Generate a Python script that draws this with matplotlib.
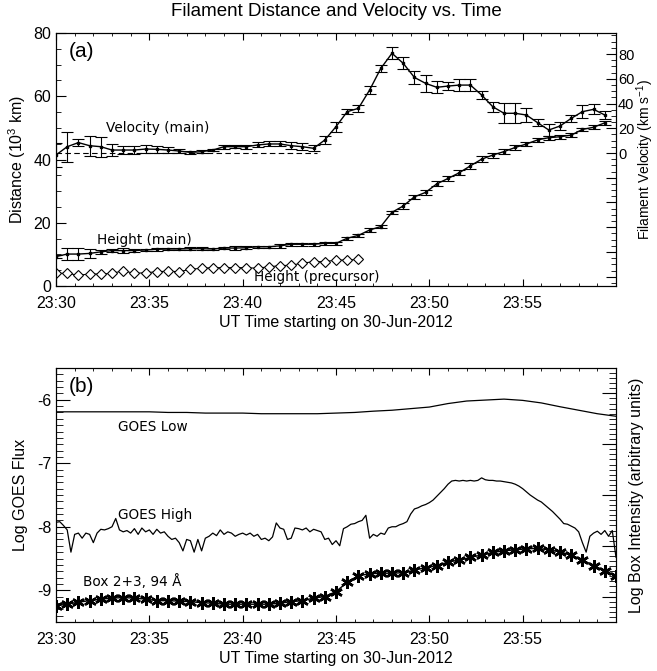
import numpy as np
import matplotlib
matplotlib.use('Agg')
import matplotlib.pyplot as plt
from matplotlib.ticker import MultipleLocator, FixedLocator, FuncFormatter, NullFormatter

plt.rcParams['font.family'] = ['Liberation Sans', 'DejaVu Sans']
plt.rcParams['mathtext.default'] = 'regular'
plt.rcParams['axes.unicode_minus'] = False

# tiempos en minutos desde 23:30 UT
cad_main = 0.6   # 36 s
cad_high = 0.2   # 12 s
cad_low = 1.0

# panel (a)
vel_main = [-1.6, 5.1, 8.4, 5.9, 5.1, 2.4, 2.4, 2.4, 3.2, 3.0,
            2.4, 1.6, 0.5, 1.1, 2.4, 5.1, 5.1, 5.1, 6.5, 7.3,
            7.3, 5.9, 5.1, 3.8, 10.5, 21.3, 33.4, 36.1, 50.9, 68.4,
            80.6, 72.5, 61.1, 56.3, 53.1, 54.1, 54.9, 54.9, 46.9, 37.4,
            32.1, 32.1, 30.7, 24.5, 18.6, 21.8, 28.0, 33.4, 35.3, 30.7]
vel_err = [10, 12, 3, 8, 8, 5, 3, 3.5, 3, 3,
           2.5, 1.5, 1, 1, 1, 1.5, 1, 1.5, 2, 2,
           2, 3, 3, 2.5, 3, 4, 2, 3, 3, 3,
           5, 5, 5, 7, 5, 3, 5, 5, 3, 4,
           8, 8, 6, 3, 5, 3, 3, 5, 4, 3]
h_main = [9.3, 10.1, 10.1, 10.3, 10.8, 11.2, 11.2, 11.2, 11.4, 11.6,
          11.7, 11.7, 11.8, 11.8, 11.7, 12.0, 12.0, 12.1, 12.4, 12.4,
          12.7, 13.2, 13.2, 13.2, 13.5, 13.5, 15.1, 16.0, 17.7, 18.8,
          23.3, 25.3, 28.2, 29.6, 32.3, 34.0, 35.8, 38.0, 40.1, 41.4,
          42.5, 43.8, 44.9, 46.2, 46.9, 47.2, 47.7, 49.5, 50.2, 51.6]
h_err = [0.4, 1.8, 1.8, 1.5, 0.7, 0.6, 0.7, 0.5, 0.4, 0.4,
         0.4, 0.4, 0.4, 0.4, 0.4, 0.4, 0.5, 0.5, 0.4, 0.4,
         0.6, 0.4, 0.4, 0.5, 0.4, 0.5, 0.5, 0.5, 0.5, 0.6,
         0.5, 0.8, 0.7, 0.8, 0.8, 0.8, 0.8, 0.9, 0.9, 0.8,
         0.8, 0.8, 0.6, 0.6, 0.6, 0.6, 0.6, 0.6, 0.6, 0.6]
h_prec = [4.0, 4.0, 3.4, 3.8, 3.8, 4.0, 4.8, 4.0, 4.2, 4.5,
          4.7, 4.5, 5.3, 5.6, 5.8, 5.8, 5.8, 5.8, 5.6, 6.1,
          6.4, 6.6, 7.2, 7.7, 7.7, 8.2, 8.2, 8.4]
v_ref_end = 14.0

# panel (b)
goes_low = [-6.19, -6.19, -6.19, -6.19, -6.19,
            -6.19, -6.20, -6.20, -6.21, -6.21,
            -6.21, -6.22, -6.22, -6.22, -6.22,
            -6.21, -6.20, -6.18, -6.165, -6.14,
            -6.115, -6.06, -6.02, -6.005, -5.99,
            -6.01, -6.05, -6.11, -6.165, -6.22,
            -6.26]
goes_high = [-7.93, -7.92, -7.98, -8.05, -8.40,
             -8.12, -8.10, -8.18, -8.10, -8.12,
             -8.25, -8.10, -8.04, -8.05, -8.03,
             -8.00, -7.87, -8.05, -8.08, -8.06,
             -8.10, -8.03, -8.12, -8.02, -8.08,
             -8.05, -8.12, -8.04, -8.10, -8.08,
             -8.15, -8.20, -8.18, -8.25, -8.38,
             -8.20, -8.22, -8.40, -8.20, -8.38,
             -8.18, -8.15, -8.10, -8.14, -8.05,
             -8.12, -8.08, -8.10, -8.15, -8.12,
             -8.10, -8.13, -8.10, -8.15, -8.12,
             -8.20, -8.18, -8.22, -8.16, -7.94,
             -8.02, -8.04, -8.20, -8.18, -8.02,
             -8.03, -8.05, -8.02, -8.08, -8.04,
             -8.06, -8.08, -8.20, -8.18, -8.28,
             -8.22, -8.30, -8.03, -8.00, -7.96,
             -7.95, -7.92, -7.90, -7.82, -8.18,
             -8.12, -8.15, -8.10, -8.12, -8.02,
             -8.00, -8.00, -7.97, -7.95, -7.92,
             -7.80, -7.72, -7.70, -7.67, -7.65,
             -7.62, -7.58, -7.52, -7.46, -7.40,
             -7.33, -7.28, -7.27, -7.28, -7.27,
             -7.28, -7.27, -7.28, -7.27, -7.23,
             -7.26, -7.27, -7.27, -7.28, -7.28,
             -7.29, -7.30, -7.31, -7.33, -7.36,
             -7.40, -7.45, -7.50, -7.54, -7.58,
             -7.61, -7.66, -7.71, -7.76, -7.82,
             -7.88, -7.95, -7.96, -7.99, -8.02,
             -8.08, -8.25, -8.40, -8.15, -8.10,
             -8.07, -8.12, -8.06, -8.15, -8.06,
             -8.48]
box94 = [2.82, 2.85, 2.89, 2.92, 2.95, 2.97, 2.98, 2.97, 2.95, 2.92,
         2.92, 2.91, 2.90, 2.88, 2.87, 2.85, 2.85, 2.85, 2.85, 2.85,
         2.87, 2.90, 2.92, 2.97, 3.00, 3.10, 3.28, 3.41, 3.45, 3.46,
         3.46, 3.47, 3.52, 3.57, 3.61, 3.68, 3.72, 3.77, 3.82, 3.87,
         3.90, 3.92, 3.94, 3.95, 3.92, 3.88, 3.82, 3.72, 3.61, 3.51,
         3.41]

t_main = np.arange(len(h_main)) * cad_main
t_prec = np.arange(len(h_prec)) * cad_main
t_box = np.arange(len(box94)) * cad_main
t_high = np.arange(len(goes_high)) * cad_high
t_low = np.arange(len(goes_low)) * cad_low


def etiqueta_ut(v, pos):
    m = int(round(v))
    if m >= 30:
        return ''
    return '23:%02d' % (30 + m)


def ejes_x(ax):
    ax.set_xlim(0, 30)
    ax.xaxis.set_major_locator(FixedLocator([0, 5, 10, 15, 20, 25]))
    ax.xaxis.set_minor_locator(MultipleLocator(1))
    ax.xaxis.set_major_formatter(FuncFormatter(etiqueta_ut))
    ax.tick_params(axis='x', which='major', direction='in', length=5,
                   top=True, labelsize=11.5, pad=7)
    ax.tick_params(axis='x', which='minor', direction='in', length=2.5, top=True)
    ax.set_xlabel('UT Time starting on 30-Jun-2012', fontsize=11.5, labelpad=3)


fig = plt.figure(figsize=(6.57, 6.71), dpi=100)
W, H = 657.0, 671.0

# ---- panel (a)
ax1 = fig.add_axes([56 / W, 1 - 286 / H, 560 / W, 253 / H])
ax2 = ax1.twinx()
ejes_x(ax1)
ax1.set_ylim(0, 80)
ax1.yaxis.set_major_locator(MultipleLocator(20))
ax1.yaxis.set_minor_locator(MultipleLocator(5))
ax1.tick_params(axis='y', which='major', direction='in', length=7, labelsize=11.5)
ax1.tick_params(axis='y', which='minor', direction='in', length=3.5)
ax1.set_ylabel('Distance (10$^3$ km)', fontsize=11.5, labelpad=4)

ax1.errorbar(t_main, h_main, yerr=h_err, fmt='-', color='k', lw=1,
             elinewidth=0.8, capsize=4, capthick=0.8, marker='s', ms=2)
ax1.plot(t_prec, h_prec, '-', color='k', lw=0.8, marker='D', ms=5,
         mfc='white', mew=0.8)

ax2.set_ylim(-107.5, 97)
ax2.yaxis.set_major_locator(MultipleLocator(20))
ax2.yaxis.set_minor_locator(MultipleLocator(5))
ax2.yaxis.set_major_formatter(FuncFormatter(lambda v, p: '%d' % v if v >= -0.5 else ''))
ax2.tick_params(axis='y', which='major', direction='in', length=7, labelsize=10.5, pad=1.5)
ax2.tick_params(axis='y', which='minor', direction='in', length=3.5)
ax2.errorbar(t_main, vel_main, yerr=vel_err, fmt='-', color='k', lw=1,
             elinewidth=0.8, capsize=4, capthick=0.8, marker='s', ms=2)
ax2.hlines(0, 0, v_ref_end, colors='k', linestyles=(0, (5, 3)), lw=0.8)
fig.text(645 / W, 1 - 160 / H, 'Filament Velocity (km s$^{-1}$)', rotation=90,
         ha='center', va='center', fontsize=10)

ax1.text(0.022, 0.965, '(a)', transform=ax1.transAxes, fontsize=15, va='top')
ax2.text(2.7, 20, 'Velocity (main)', fontsize=9.8, family='DejaVu Sans', va='center')
ax1.text(2.2, 14.5, 'Height (main)', fontsize=9.8, family='DejaVu Sans', va='center')
ax1.text(10.6, 2.9, 'Height (precursor)', fontsize=9.8, family='DejaVu Sans', va='center')

fig.text(336.5 / W, 1 - 12 / H, 'Filament Distance and Velocity vs. Time',
         ha='center', va='center', fontsize=13.5)

# ---- panel (b)
ax3 = fig.add_axes([56 / W, 1 - 622 / H, 560 / W, 254 / H])
ax4 = ax3.twinx()
ejes_x(ax3)
ax3.set_ylim(-9.5, -5.5)
ax3.yaxis.set_major_locator(MultipleLocator(1))
ax3.yaxis.set_minor_locator(MultipleLocator(0.1))
ax3.tick_params(axis='y', which='major', direction='in', length=10, labelsize=11.5)
ax3.tick_params(axis='y', which='minor', direction='in', length=5)
ax3.set_ylabel('Log GOES Flux', fontsize=11.5, labelpad=6)
ax3.plot(t_low, goes_low, color='k', lw=0.9)
ax3.plot(t_high, goes_high, color='k', lw=0.9)

ax4.set_ylim(2.5, 7.5)
ax4.yaxis.set_major_locator(MultipleLocator(1))
ax4.yaxis.set_minor_locator(MultipleLocator(0.1))
ax4.yaxis.set_major_formatter(NullFormatter())
ax4.tick_params(axis='y', which='major', direction='in', length=10)
ax4.tick_params(axis='y', which='minor', direction='in', length=5)
ax4.set_ylabel('Log Box Intensity (arbitrary units)', fontsize=11.5, labelpad=6)
ax4.plot(t_box, box94, '-', color='k', lw=1, marker=(6, 2, 0), ms=9, mew=1.8)

ax3.text(0.022, 0.965, '(b)', transform=ax3.transAxes, fontsize=15, va='top')
ax3.text(3.3, -6.43, 'GOES Low', fontsize=9.8, family='DejaVu Sans', va='center')
ax3.text(3.3, -7.81, 'GOES High', fontsize=9.8, family='DejaVu Sans', va='center')
ax3.text(1.45, -8.87, 'Box 2+3, 94 Å', fontsize=9.8, family='DejaVu Sans', va='center')

fig.savefig('out.png', dpi=100)
